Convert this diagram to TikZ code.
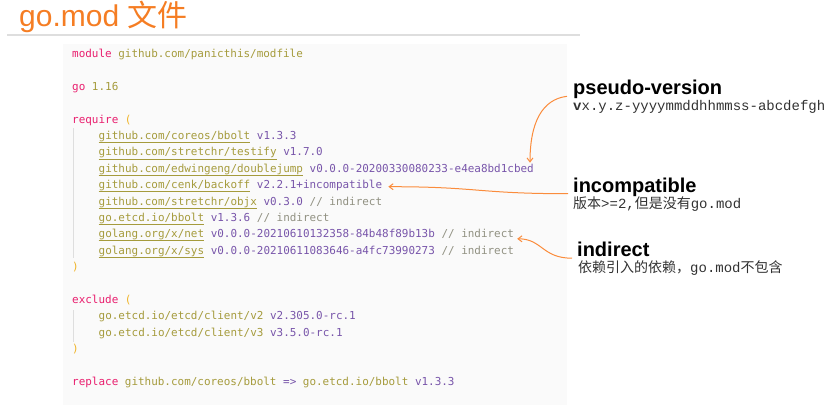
\documentclass[tikz,border=0pt]{standalone}
\usepackage{fontspec}
\setmainfont{Liberation Sans}
\setmonofont{DejaVu Sans Mono}
\newfontfamily\cjk{Noto Sans CJK SC}
\newfontfamily\cour{Liberation Mono}
\usetikzlibrary{arrows.meta}

\definecolor{ctitle}{RGB}{245,125,35}
\definecolor{carrow}{RGB}{250,140,60}
\definecolor{ckey}{RGB}{233,30,110}
\definecolor{cpath}{RGB}{165,155,60}
\definecolor{cver}{RGB}{120,85,170}
\definecolor{cparen}{RGB}{240,180,40}
\definecolor{ccmt}{RGB}{145,145,130}
\definecolor{codebg}{RGB}{250,250,250}
\definecolor{rulegray}{RGB}{222,222,222}
\definecolor{cnote}{RGB}{50,50,50}

\newcommand{\kw}[1]{\textcolor{ckey}{#1}}
\newcommand{\pth}[1]{\textcolor{cpath}{#1}}
\newcommand{\ver}[1]{\textcolor{cver}{#1}}
\newcommand{\cmt}[1]{\textcolor{ccmt}{#1}}
\newcommand{\paren}[1]{\textcolor{cparen}{#1}}
\newcommand{\upath}[1]{\textcolor{cpath}{\setbox0\hbox{#1}\rlap{\rule[-3.5pt]{\wd0}{0.9pt}}\box0}}

\tikzset{
	codeline/.style = {anchor = base west, inner sep = 0, font = \ttfamily\fontsize{10.95}{12}\selectfont},
	heading/.style = {anchor = base west, inner sep = 0, font = \bfseries\fontsize{20}{20}\selectfont},
	note/.style = {anchor = base west, inner sep = 0, text = cnote, font = \fontsize{14}{14}\selectfont},
	ann/.style = {draw = carrow, line width = 1pt, -{Straight Barb[length = 4pt, width = 6pt]}}
}

\begin{document}
\begin{tikzpicture}[x = 1pt, y = -1pt]

	\useasboundingbox (0, 0) rectangle (833, 405);

	% Title and rule under it

	\node [anchor = base west, inner sep = 0, text = ctitle, font = \fontsize{30}{30}\selectfont] (title) at (19, 26.5) {go.mod {\cjk 文件}};
	\draw [rulegray, line width = 1.5pt] (7, 35) -- (580, 35);

	% Code block

	\fill [codebg] (63, 44) rectangle (567, 405);
	\draw [rulegray, line width = 1pt] (73, 128) -- (73, 258);
	\draw [rulegray, line width = 1pt] (73, 310) -- (73, 342);

	\node [codeline] (lmodule) at (72, 57.7) {\kw{module} \pth{github.com/panicthis/modfile}};
	\node [codeline] (lgo) at (72, 90.4) {\kw{go} \pth{1.16}};
	\node [codeline] (lrequire) at (72, 123.2) {\kw{require} \paren{(}};

	\begin{scope}[every node/.style = codeline]

		\node (lbbolt) at (98.5, 139.6) {\upath{github.com/coreos/bbolt} \ver{v1.3.3}};
		\node (ltestify) at (98.5, 155.9) {\upath{github.com/stretchr/testify} \ver{v1.7.0}};
		\node (ljump) at (98.5, 172.3) {\upath{github.com/edwingeng/doublejump} \ver{v0.0.0-20200330080233-e4ea8bd1cbed}};
		\node (lbackoff) at (98.5, 188.7) {\upath{github.com/cenk/backoff} \ver{v2.2.1+incompatible}};
		\node (lobjx) at (98.5, 205.0) {\upath{github.com/stretchr/objx} \ver{v0.3.0} \cmt{// indirect}};
		\node (letcd) at (98.5, 221.4) {\upath{go.etcd.io/bbolt} \ver{v1.3.6} \cmt{// indirect}};
		\node (lnet) at (98.5, 237.8) {\upath{golang.org/x/net} \ver{v0.0.0-20210610132358-84b48f89b13b} \cmt{// indirect}};
		\node (lsys) at (98.5, 254.1) {\upath{golang.org/x/sys} \ver{v0.0.0-20210611083646-a4fc73990273} \cmt{// indirect}};

	\end{scope}

	\node [codeline] (lrclose) at (72, 270.5) {\paren{)}};
	\node [codeline] (lexclude) at (72, 303.3) {\kw{exclude} \paren{(}};
	\node [codeline] (lclientii) at (98.5, 319.6) {\pth{go.etcd.io/etcd/client/v2} \ver{v2.305.0-rc.1}};
	\node [codeline] (lclientiii) at (98.5, 336.0) {\pth{go.etcd.io/etcd/client/v3} \ver{v3.5.0-rc.1}};
	\node [codeline] (leclose) at (72, 352.4) {\paren{)}};
	\node [codeline] (lreplace) at (72, 385.1) {\kw{replace} \pth{github.com/coreos/bbolt} \ver{=>} \pth{go.etcd.io/bbolt} \ver{v1.3.3}};

	% Notes on the right

	\node [heading] (hpseudo) at (573, 94.3) {pseudo-version};
	\node [note] (npseudo) at (573, 110) {\cour{\bfseries v}x.y.z-yyyymmddhhmmss-abcdefgh};

	\node [heading] (hincompat) at (573, 192.7) {incompatible};
	\node [note] (nincompat) at (573, 208) {\cjk 版本\cour >=2,\cjk 但是没有\cour go.mod};

	\node [heading] (hindirect) at (577, 256.7) {indirect};
	\node [note] (nindirect) at (578, 272.7) {\cjk 依赖引入的依赖，\cour go.mod\cjk 不包含};

	% Arrows from the notes

	\draw [ann] ([xshift = -6pt, yshift = -2pt] hpseudo.base west) .. controls +(-25, 3) and +(0, -40) .. ([xshift = -4pt, yshift = 1pt] ljump.north east);
	\draw [ann] ([xshift = -5pt, yshift = -1pt] hincompat.base west) .. controls +(-90, 0) and +(90, 0) .. ([xshift = 6pt, yshift = 2pt] lbackoff.base east);
	\draw [ann] ([xshift = -5pt, yshift = -1.5pt] hindirect.base west) .. controls +(-30, 0) and +(25, 0) .. ([xshift = 3pt, yshift = -1pt] lnet.base east);

\end{tikzpicture}
\end{document}
